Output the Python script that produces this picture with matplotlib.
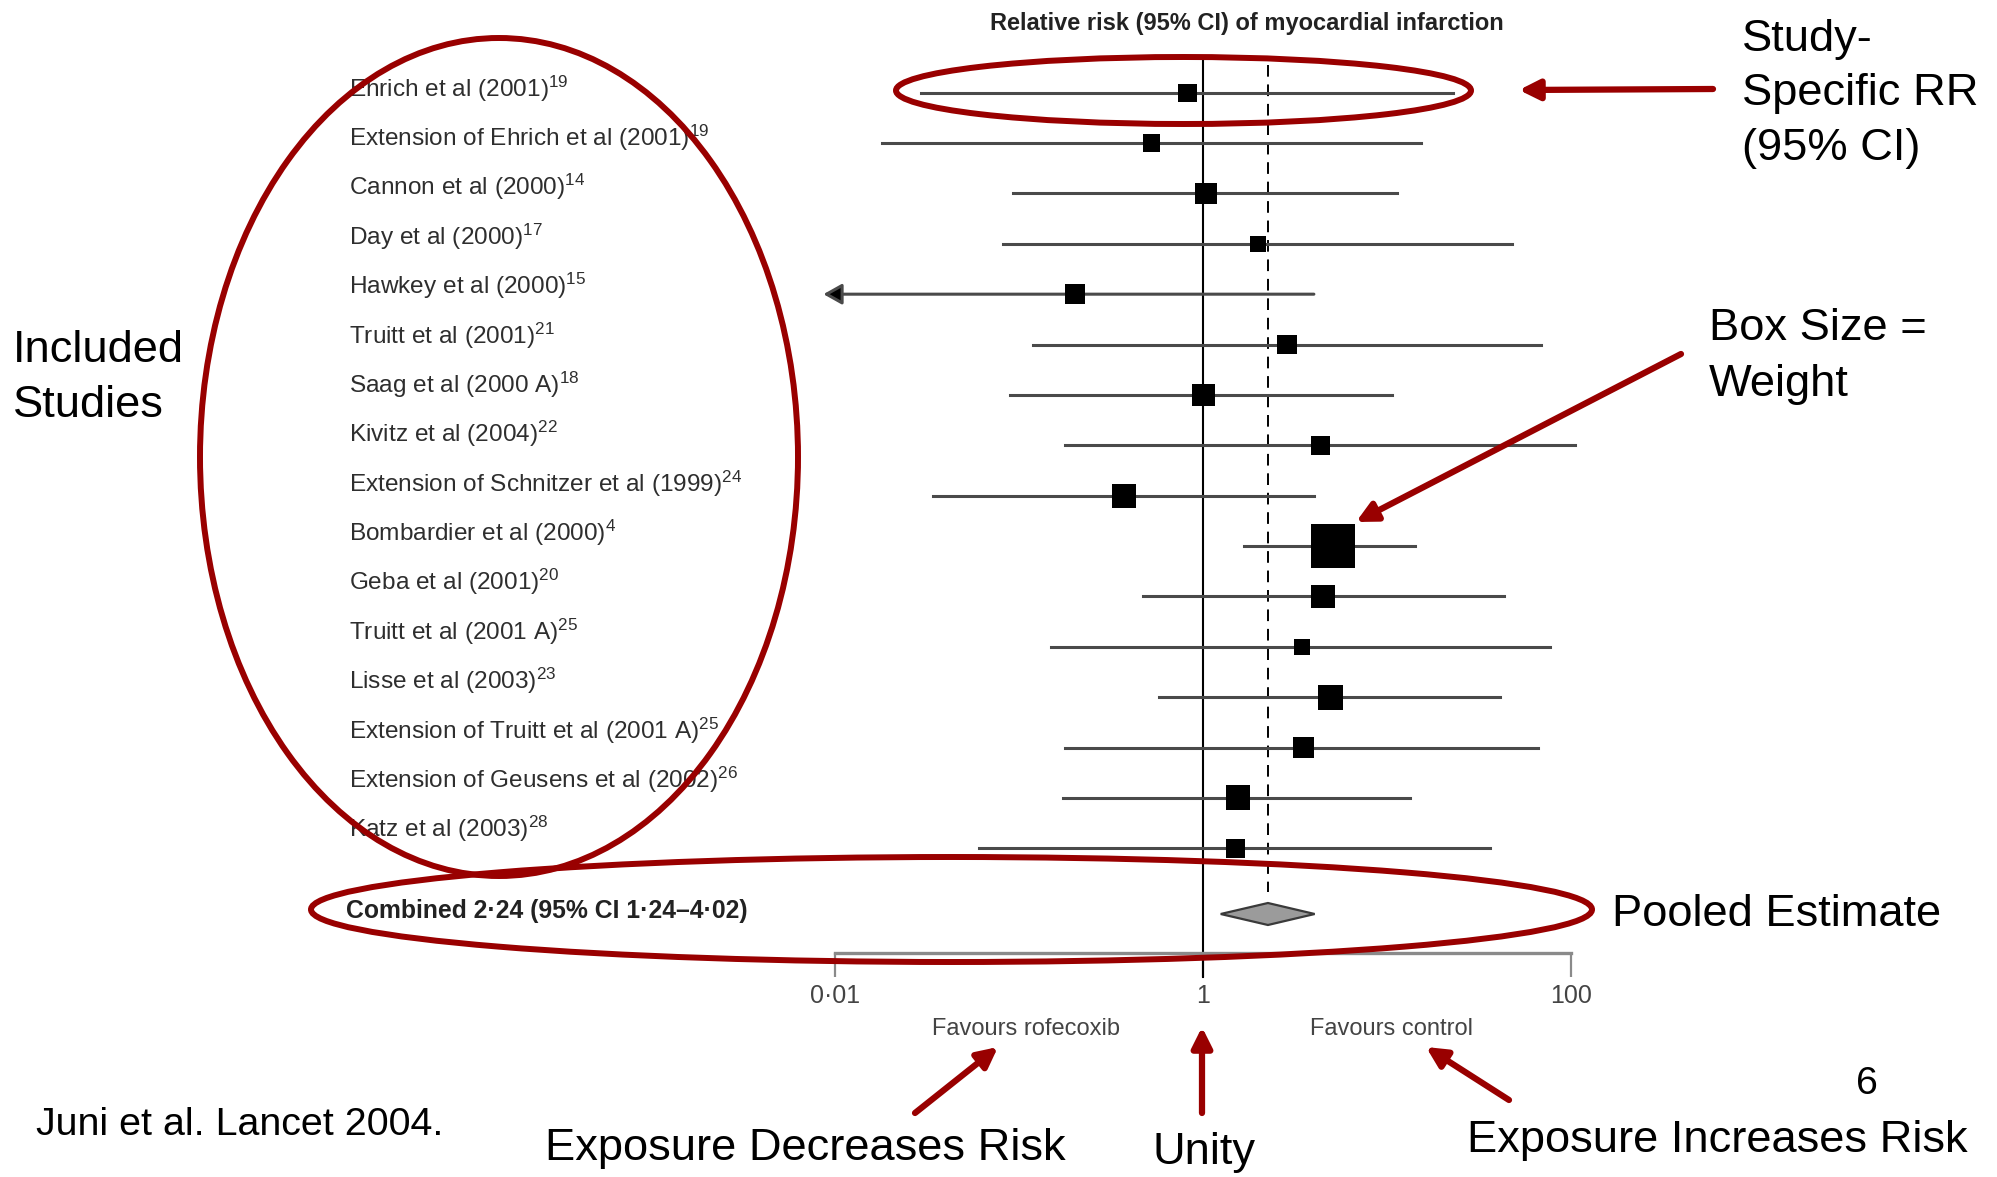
import matplotlib
matplotlib.use("Agg")
import matplotlib.pyplot as plt
import matplotlib.transforms as mtransforms
from matplotlib.patches import Ellipse, FancyArrowPatch, Polygon
from matplotlib.ticker import NullLocator
import numpy as np

plt.rcParams['font.family'] = ['Liberation Sans', 'DejaVu Sans']
plt.rcParams['mathtext.fontset'] = 'custom'
plt.rcParams['mathtext.rm'] = 'Liberation Sans'
plt.rcParams['mathtext.it'] = 'Liberation Sans:italic'
plt.rcParams['mathtext.bf'] = 'Liberation Sans:bold'


# rofecoxib trials, relative risk of myocardial infarction
studies = ["Ehrich et al (2001)", "Extension of Ehrich et al (2001)", "Cannon et al (2000)",
           "Day et al (2000)", "Hawkey et al (2000)", "Truitt et al (2001)", "Saag et al (2000 A)",
           "Kivitz et al (2004)", "Extension of Schnitzer et al (1999)", "Bombardier et al (2000)",
           "Geba et al (2001)", "Truitt et al (2001 A)", "Lisse et al (2003)",
           "Extension of Truitt et al (2001 A)", "Extension of Geusens et al (2002)", "Katz et al (2003)"]
refs = [19, 19, 14, 17, 15, 21, 18, 22, 24, 4, 20, 25, 23, 25, 26, 28]
rr = [0.82, 0.52, 1.03, 1.97, 0.20, 2.85, 1.00, 4.32, 0.37, 5.04, 4.46, 3.43, 4.91, 3.50, 1.54, 1.49]
ci_low = [0.029, 0.018, 0.092, 0.081, 0.0086, 0.118, 0.089, 0.177, 0.034, 1.66, 0.47, 0.149,
          0.57, 0.177, 0.172, 0.060]
ci_high = [22.7, 15.2, 11.2, 47.3, 3.98, 68.0, 10.6, 104.0, 3.98, 14.1, 43.0, 76.0, 41.0, 66.0,
           13.3, 36.0]
weights = [4.0, 3.6, 5.6, 3.1, 4.5, 4.5, 6.1, 4.5, 6.7, 23.3, 6.7, 3.1, 7.3, 5.0, 7.3, 4.5]

pooled_rr, pooled_low, pooled_high = 2.24, 1.24, 4.02

ticks = [0.01, 1, 100]
tick_labels = ["0·01", "1", "100"]


# layout in pixels
W, H = 1997, 1177
X_ONE, DECADE = 1203.5, 184.0      # pixel of RR=1, pixels per decade
ROW0, ROW_H = 92.7, 50.37          # first row and row pitch
RED = '#990000'
LINE = '#4a4a4a'
TXT = '#2e2e2e'

fig = plt.figure(figsize=(W / 100, H / 100), dpi=100)
ax = fig.add_axes([0, 0, 1, 1])
ax.set_xscale('log')
ax.set_xlim(10 ** (-X_ONE / DECADE), 10 ** ((W - X_ONE) / DECADE))
ax.set_ylim((H - ROW0) / ROW_H, -ROW0 / ROW_H)
ax.patch.set_visible(False)
for s in ['top', 'left', 'right']:
    ax.spines[s].set_visible(False)
ax.set_yticks([])
ax.xaxis.set_minor_locator(NullLocator())


def row(px):
    return (px - ROW0) / ROW_H


y = np.arange(len(studies))
pooled_y = row(914)
axis_y = row(953)

# reference lines
ax.plot([1, 1], [row(57), row(977)], color='black', lw=1.5, zorder=2)
ax.plot([pooled_rr, pooled_rr], [row(65), row(892)], color='black', lw=1.4,
        linestyle=(0, (6, 4)), zorder=2)

# confidence intervals
for i in range(len(studies)):
    if ci_low[i] < ticks[0]:
        ax.annotate('', xy=(ci_low[i], y[i]), xytext=(ci_high[i], y[i]),
                    arrowprops=dict(arrowstyle='-|>,head_length=0.8,head_width=0.45',
                                    mutation_scale=14, fc='black', ec=LINE, lw=2.2,
                                    shrinkA=0, shrinkB=0), zorder=2)
    else:
        ax.plot([ci_low[i], ci_high[i]], [y[i], y[i]], color=LINE, lw=2.2, zorder=2)

# boxes sized by weight
side_pt = np.sqrt(np.array(weights) * 72.0) * 0.72 * 1.08
ax.scatter(rr, y, s=side_pt ** 2, marker='s', color='black', linewidths=0, zorder=3)

# pooled diamond
dh = 11 / ROW_H
ax.add_patch(Polygon([(pooled_low, pooled_y), (pooled_rr, pooled_y - dh),
                      (pooled_high, pooled_y), (pooled_rr, pooled_y + dh)],
                     closed=True, fc='#9b9b9b', ec='#3a3a3a', lw=1.6, zorder=3))

# bottom axis
ax.spines['bottom'].set_position(('data', axis_y))
ax.spines['bottom'].set_bounds(ticks[0], ticks[-1])
ax.spines['bottom'].set_color('#8a8a8a')
ax.spines['bottom'].set_linewidth(2.4)
ax.set_xticks(ticks)
ax.set_xticklabels(tick_labels)
ax.tick_params(axis='x', length=17, width=1.6, color='#8a8a8a', direction='out', pad=5,
               labelsize=18, labelcolor='#444444')


def px_text(x, yc, s, size, ha='left', **kw):
    # place text by pixel x and the pixel centre of its capitals
    base = yc + 0.358 * size * 100 / 72
    fig.text(x / W, 1 - base / H, s, fontsize=size, ha=ha, va='baseline', **kw)


# study labels
lab_fs = 17.6
lab_tr = mtransforms.offset_copy(ax.get_yaxis_transform(), fig=fig, y=-0.358 * lab_fs,
                                 units='points')
for i, (name, ref) in enumerate(zip(studies, refs)):
    ly = row(87.9 + 49.37 * i)
    ax.text(349 / W, ly, f"{name}$^{{{ref}}}$", transform=lab_tr, fontsize=lab_fs,
            color=TXT, ha='left', va='baseline')

pooled_label = f"Combined {pooled_rr:.2f} (95% CI {pooled_low:.2f}–{pooled_high:.2f})".replace('.', '·')
px_text(346, 909, pooled_label, 17.8, weight='bold', color='#222222')

px_text(1247, 22, "Relative risk (95% CI) of myocardial infarction", 17, ha='center',
        weight='bold', color='#222222')
px_text(1026, 1027, "Favours rofecoxib", 17, ha='center', color='#444444')
px_text(1392, 1027, "Favours control", 17, ha='center', color='#444444')

# callouts
for cx, cy, w, h in [(1183.5, 90.5, 575, 67), (499, 457, 598, 838), (951.5, 909.5, 1281, 105)]:
    fig.add_artist(Ellipse((cx / W, 1 - cy / H), w / W, h / H, transform=fig.transFigure,
                           fill=False, ec=RED, lw=4.3))

for (x0, y0), (x1, y1) in [((1713, 89), (1519, 90)), ((1681, 354), (1356, 522)),
                           ((915, 1113), (998, 1047)), ((1202, 1113), (1202, 1027)),
                           ((1509, 1100), (1426, 1047))]:
    fig.add_artist(FancyArrowPatch((x0 / W, 1 - y0 / H), (x1 / W, 1 - y1 / H),
                                   transform=fig.transFigure,
                                   arrowstyle='-|>,head_length=1.2,head_width=0.6',
                                   mutation_scale=10, color=RED, lw=4.5,
                                   shrinkA=0, shrinkB=0))

big = 32.6
px_text(13, 346, "Included", big)
px_text(13, 401, "Studies", big)
px_text(1742, 34.4, "Study-", big)
px_text(1742, 89.2, "Specific RR", big)
px_text(1742, 144, "(95% CI)", big)
px_text(1709, 323.5, "Box Size =", big)
px_text(1709, 379.5, "Weight", big)
px_text(1612, 910, "Pooled Estimate", big)
px_text(1467, 1136, "Exposure Increases Risk", big)
px_text(1867, 1080, "6", 28.4, ha='center')
px_text(545, 1144, "Exposure Decreases Risk", big)
px_text(1203.5, 1148, "Unity", big, ha='center')
px_text(36, 1121, "Juni et al. Lancet 2004.", 28.4)

fig.savefig('out.png', dpi=100)
